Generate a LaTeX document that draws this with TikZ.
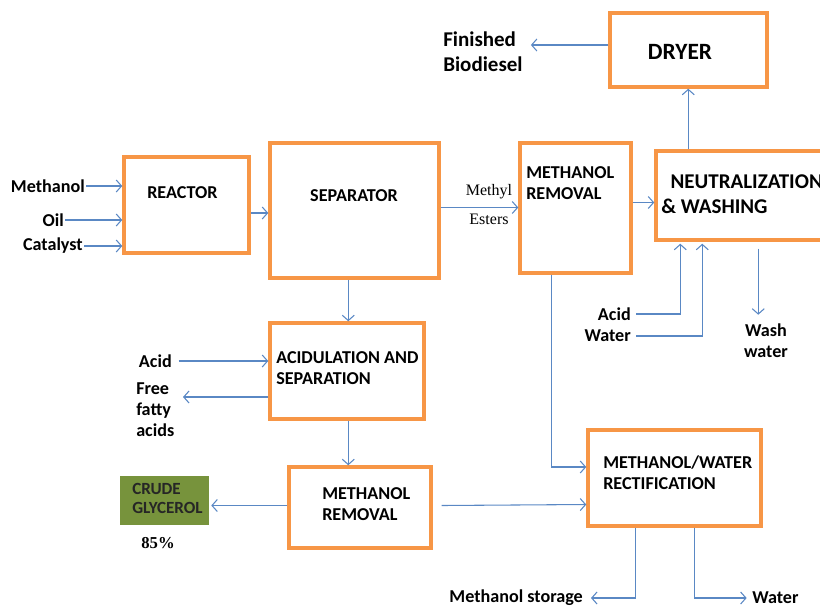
\documentclass[tikz,border=0pt]{standalone}
\usepackage{fontspec}
\setmainfont{Carlito}
\newfontfamily\serifface{Liberation Serif}
\usepackage{tikz}
\usetikzlibrary{arrows.meta,positioning,fit,calc}
\definecolor{boxorange}{HTML}{F79646}
\definecolor{flowblue}{HTML}{5A88C4}
\definecolor{olivefill}{HTML}{77933C}

\begin{document}
\begin{tikzpicture}[x=0.75pt, y=-0.75pt, font=\fontsize{13.6}{15.75}\selectfont\bfseries,
  box/.style={draw=boxorange,line width=2.6pt,inner sep=0pt},
  lbl/.style={align=left,inner sep=0pt,anchor=west},
  big/.style={font=\fontsize{15.75}{18.75}\selectfont\bfseries},
  arr/.style={draw=flowblue,line width=0.8pt,-{Straight Barb[length=4pt,width=9pt]}},
  ln/.style={draw=flowblue,line width=0.8pt}]
\useasboundingbox (0,0) rectangle (820,607);
\clip (0,0) rectangle (820,607);
\node[box,fit={(124,157) (249,253)}] (reactor) {};
\node[box,fit={(270,143) (439,278)}] (sep) {};
\node[box,fit={(520,143) (631,273)}] (mrem1) {};
\node[box,fit={(656,151) (840,240)}] (neut) {};
\node[box,fit={(610,13) (767,87)}] (dryer) {};
\node[box,fit={(270,323) (424,419)}] (acidsep) {};
\node[box,fit={(289,467) (431,548)}] (mrem2) {};
\node[box,fit={(588,430) (761,526)}] (rect) {};
\node[fill=olivefill,inner sep=0pt,fit={(120,476) (209,525)}] (glyc) {};
\node[lbl] (reactortxt) at (147,193) {REACTOR};
\node[inner sep=0pt] (septxt) at (354,196) {SEPARATOR};
\node[lbl] (mrem1txt) at (526,183) {METHANOL\\REMOVAL};
\node[lbl,big] (neuttxt) at (661,194) {\hspace*{7pt}NEUTRALIZATION\\\& WASHING};
\node[inner sep=0pt,font=\fontsize{17.5}{20}\selectfont\bfseries] (dryertxt) at (680,52) {DRYER};
\node[lbl,big] (fin) at (443,52) {Finished\\Biodiesel};
\node[lbl] (acidseptxt) at (276,368) {ACIDULATION AND\\SEPARATION};
\node[lbl] (mrem2txt) at (322,504) {METHANOL\\REMOVAL};
\node[lbl] (recttxt) at (603,473) {METHANOL/WATER\\RECTIFICATION};
\node[lbl,font=\fontsize{12.8}{14.25}\selectfont\bfseries,text=black!85] (glyctxt) at (132,498) {CRUDE\\GLYCEROL};
\node[inner sep=0pt,font=\serifface\fontsize{12.5}{15}\selectfont\bfseries] (pct) at (158,543) {85\%};
\node[inner sep=0pt,align=center,font=\serifface\fontsize{12}{21.75}\selectfont] (esters) at (489,205) {Methyl\\Esters};
\node[inner sep=0pt,anchor=east] (methanol) at (85,186) {Methanol};
\node[inner sep=0pt,anchor=east] (oil) at (64,220) {Oil};
\node[inner sep=0pt,anchor=east] (catalyst) at (83,246) {Catalyst};
\node[inner sep=0pt,anchor=east] (acidin) at (172,361) {Acid};
\node[lbl] (ffa) at (136,410) {Free\\fatty\\acids};
\node[inner sep=0pt,anchor=east] (acid2) at (631,314) {Acid};
\node[inner sep=0pt,anchor=east] (water2) at (631,336) {Water};
\node[inner sep=0pt,align=center] (wash) at (766,341) {Wash\\water};
\node[inner sep=0pt,anchor=east] (mstore) at (583,598) {Methanol storage};
\node[inner sep=0pt,anchor=west] (wout) at (752,598) {Water};
\coordinate (ffaend) at (183,397);
\foreach \a in {methanol,oil,catalyst}
  \draw[arr] ([xshift=1pt]\a.east) -- (\a.east -| reactor.west);
\draw[arr] ($(reactor.east)+(0,8)$) -- ($(reactor.east -| sep.west)+(0,8)$);
\draw[arr] ($(sep.east)+(0,-3)$) -- ($(sep.east -| mrem1.west)+(0,-3)$);
\draw[arr] ($(mrem1.east |- neut.west)+(0,7)$) -- ($(neut.west)+(0,7)$);
\draw[arr] ($(neut.north west)+(34,0)$) -- ($(neut.north west |- dryer.south)+(34,0)$);
\draw[arr] ($(dryer.west)+(0,-5)$) -- ($(dryer.west -| fin.east)+(8,-5)$);
\draw[arr] ($(sep.south west)+(80,0)$) -- ($(sep.south west |- acidsep.north)+(80,0)$);
\draw[arr] ([xshift=5pt]acidin.east) -- (acidin.east -| acidsep.west);
\draw[arr] (ffaend -| acidsep.west) -- (ffaend);
\draw[arr] ($(acidsep.south west)+(80,0)$) -- ($(acidsep.south west |- mrem2.north)+(80,0)$);
\draw[arr] ($(mrem2.west)+(0,-2)$) -- ($(glyc.east |- mrem2.west)+(2,-2)$);
\draw[arr] ($(mrem2.east)+(9,-2)$) -- ($(mrem2.east -| rect.west)+(0,-3)$);
\draw[arr] ($(mrem1.south west)+(33,0)$) |- ($(rect.west)+(0,-11)$);
\draw[arr] ([xshift=4pt]acid2.east) -| ($(neut.south west)+(26,2)$);
\draw[arr] ([xshift=4pt]water2.east) -| ($(neut.south west)+(48,2)$);
\draw[arr] ($(neut.south west)+(104,7)$) -- ($(neut.south west)+(104,73)$);
\draw[arr] ($(rect.south west)+(49,0)$) |- ([xshift=6pt]mstore.east);
\draw[arr] ($(rect.south west)+(108,0)$) |- ([xshift=-4pt]wout.west);
\end{tikzpicture}
\end{document}
